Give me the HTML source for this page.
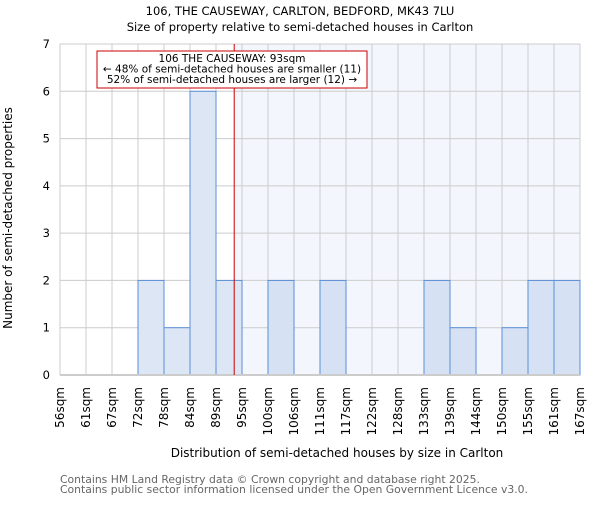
<!DOCTYPE html>
<html><head><meta charset="utf-8"><style>
body{margin:0;background:#fff;}
svg text{font-family:"DejaVu Sans","Liberation Sans",sans-serif;}
</style></head><body>
<svg id="chart" width="600" height="500" xmlns="http://www.w3.org/2000/svg">
<text x="300" y="15" text-anchor="middle" font-size="11.5">106, THE CAUSEWAY, CARLTON, BEDFORD, MK43 7LU</text>
<text x="300" y="31" text-anchor="middle" font-size="11.5">Size of property relative to semi-detached houses in Carlton</text>
<g id="plot"></g>
<text x="337" y="457" text-anchor="middle" font-size="12">Distribution of semi-detached houses by size in Carlton</text>
<text transform="translate(12,218) rotate(-90)" text-anchor="middle" font-size="12">Number of semi-detached properties</text>
<text x="60" y="483" font-size="10.8" fill="#666">Contains HM Land Registry data © Crown copyright and database right 2025.</text>
<text x="60" y="493" font-size="10.8" fill="#666">Contains public sector information licensed under the Open Government Licence v3.0.</text>
</svg>
<script>
const tickLabels=["56sqm","61sqm","67sqm","72sqm","78sqm","84sqm","89sqm","95sqm","100sqm","106sqm","111sqm","117sqm","122sqm","128sqm","133sqm","139sqm","144sqm","150sqm","155sqm","161sqm","167sqm"];
const counts=[0,0,0,2,1,6,2,0,2,0,2,0,0,0,2,1,0,1,2,2];
const yTicks=[0,1,2,3,4,5,6,7];
const markerBin=6.7;
const NS="http://www.w3.org/2000/svg";
const L=60,R=580,T=44,B=375,yMax=7;
const bw=(R-L)/counts.length;
const xs=i=>L+i*bw;
const ys=v=>B-v/yMax*(B-T);
const g=document.getElementById('plot');
function mk(t,a){const e=document.createElementNS(NS,t);for(const k in a)e.setAttribute(k,a[k]);g.appendChild(e);return e;}
const mx=xs(markerBin);
let e=mk('rect',{x:mx,y:T,width:R-mx,height:B-T,fill:'#f3f6fd'});


tickLabels.forEach((t,i)=>{const x=xs(i);
 let l=mk('line',{x1:x,x2:x,y1:T,y2:B,stroke:'#cccccc','stroke-width':1});
 
 
 let tx=mk('text',{transform:`translate(${x+4},387) rotate(-90)`,'text-anchor':'end','font-size':12});
 tx.textContent=t;
 
 
});
yTicks.forEach(v=>{const y=ys(v);
 let l=mk('line',{x1:L,x2:R,y1:y,y2:y,stroke:'#cccccc','stroke-width':1});
 
 
 let tx=mk('text',{x:L-10,y:y+4,'text-anchor':'end','font-size':11.5});
 tx.textContent=v;
 
 
});
counts.forEach((c,i)=>{if(!c)return;
 let r=mk('rect',{x:xs(i),y:ys(c),width:bw,height:B-ys(c),fill:xs(i)>=mx?'#d6e2f4':'#dce6f4',stroke:'#5b8fd6','stroke-width':1});
 
 
});
let ax=mk('line',{x1:L,x2:R,y1:B,y2:B,stroke:'#cccccc','stroke-width':2});


let ml=mk('line',{x1:mx,x2:mx,y1:T,y2:B,stroke:'#cc0000','stroke-width':1});


let box=mk('rect',{x:97,y:51,width:270,height:37,fill:'#fff',stroke:'#cc0000','stroke-width':1});


["106 THE CAUSEWAY: 93sqm","← 48% of semi-detached houses are smaller (11)","52% of semi-detached houses are larger (12) →"].forEach((s,i)=>{
 let t=mk('text',{x:232,y:62+i*10.5,'text-anchor':'middle','font-size':10.5});
 t.textContent=s;
 
 
});
</script>
</body></html>
